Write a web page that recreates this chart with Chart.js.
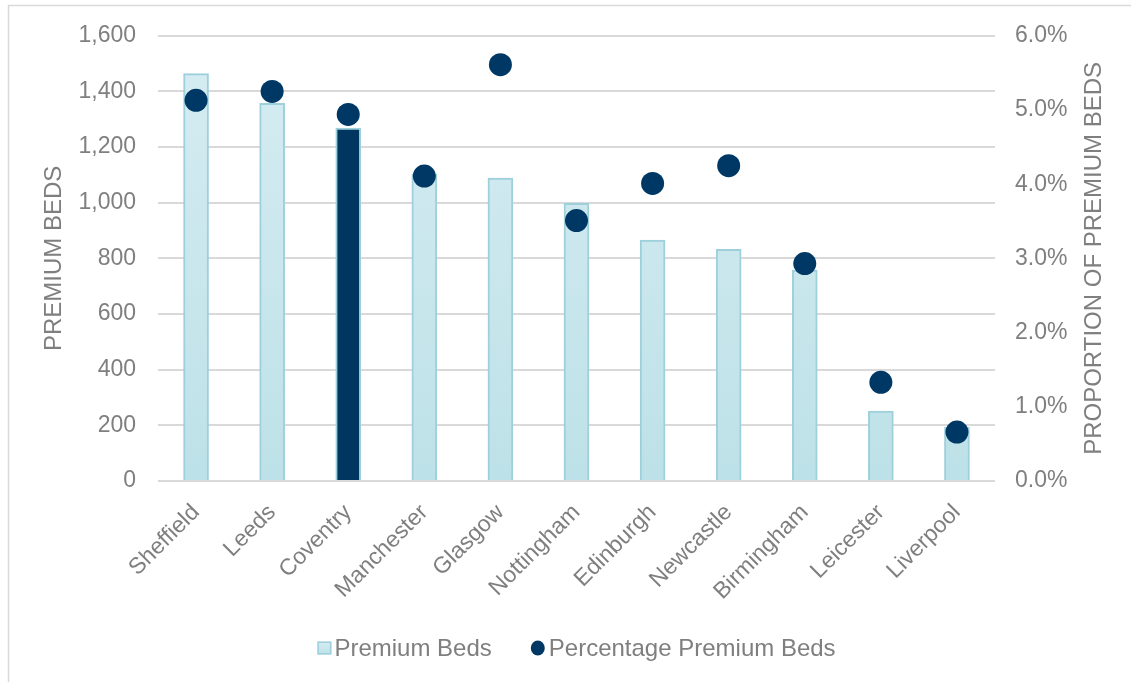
<!DOCTYPE html>
<html>
<head>
<meta charset="utf-8">
<script src="https://cdn.jsdelivr.net/npm/chart.js@4.4.0/dist/chart.umd.min.js"></script>
<style>
  html, body { margin: 0; padding: 0; background: #ffffff; }
  #wrap { width: 1131px; height: 682px; position: relative; }
</style>
</head>
<body>
<div id="wrap"><canvas id="c" width="1131" height="682"></canvas></div>
<script>
// Cities, ordered by number of premium beds
const cities = ['Sheffield', 'Leeds', 'Coventry', 'Manchester', 'Glasgow', 'Nottingham',
                'Edinburgh', 'Newcastle', 'Birmingham', 'Leicester', 'Liverpool'];
// Premium beds per city (left axis)
const premiumBeds = [1464, 1357, 1268, 1102, 1089, 998, 866, 833, 758, 251, 193];
// Premium beds as a share of all beds, in percent (right axis)
const premiumShare = [5.13, 5.25, 4.94, 4.11, 5.61, 3.51, 4.01, 4.25, 2.93, 1.33, 0.66];
// City shown in the highlight colour
const highlightCity = 'Coventry';
// Axis ranges
const bedsAxis = { min: 0, max: 1600, step: 200 };
const shareAxis = { min: 0, max: 6, step: 1 };
const seriesNames = ['Premium Beds', 'Percentage Premium Beds'];
const axisTitles = ['PREMIUM BEDS', 'PROPORTION OF PREMIUM BEDS'];

const FONT = "'Liberation Sans', Arial, sans-serif";
const GREY = '#7f7f7f';
const NAVY = '#003865';
const BAR_EDGE = '#9dd0db';
const TICK_SIZE = 23;

Chart.defaults.font.family = FONT;
Chart.defaults.font.size = TICK_SIZE;
Chart.defaults.color = GREY;

function barFill(ctx) {
  if (cities[ctx.dataIndex] === highlightCity) return '#00365f';
  const area = ctx.chart.chartArea;
  if (!area) return '#cbe7ed';
  const g = ctx.chart.ctx.createLinearGradient(0, area.top, 0, area.bottom);
  g.addColorStop(0, '#d6edf2');
  g.addColorStop(1, '#bde1e8');
  return g;
}

// Outer chart frame
const framePlugin = {
  id: 'frame',
  beforeDraw(chart) {
    const c = chart.ctx;
    c.save();
    c.strokeStyle = '#d9d9d9';
    c.lineWidth = 1.5;
    c.beginPath();
    c.moveTo(8.5, chart.height + 2);
    c.lineTo(8.5, 5.5);
    c.lineTo(chart.width + 2, 5.5);
    c.stroke();
    c.restore();
  }
};

// Vertical axis titles, both reading bottom to top
const axisTitlePlugin = {
  id: 'axisTitlesUp',
  afterDraw(chart) {
    const c = chart.ctx;
    const area = chart.chartArea;
    const midY = (area.top + area.bottom) / 2;
    const spots = [54, 1094];
    c.save();
    c.fillStyle = GREY;
    c.font = '24px ' + FONT;
    c.textAlign = 'center';
    c.textBaseline = 'middle';
    axisTitles.forEach((t, i) => {
      c.save();
      c.translate(spots[i], midY);
      c.rotate(-Math.PI / 2);
      c.fillText(t, 0, 0);
      c.restore();
    });
    c.restore();
  }
};

// Legend row under the category labels
const legendPlugin = {
  id: 'legendRow',
  afterDraw(chart) {
    const c = chart.ctx;
    const area = chart.chartArea;
    const y = 648;
    c.save();
    c.font = '24px ' + FONT;
    c.textBaseline = 'middle';
    const w1 = c.measureText(seriesNames[0]).width;
    const w2 = c.measureText(seriesNames[1]).width;
    const box = 14, gapA = 3, gapB = 39, dot = 14, gapC = 4;
    const total = box + gapA + w1 + gapB + dot + gapC + w2;
    let x = (area.left + area.right) / 2 - total / 2;
    // bar swatch
    const g = c.createLinearGradient(0, y - 7, 0, y + 7);
    g.addColorStop(0, '#d6edf2');
    g.addColorStop(1, '#bde1e8');
    c.fillStyle = g;
    c.fillRect(x, y - 6.5, box, 13);
    c.strokeStyle = BAR_EDGE;
    c.lineWidth = 1.5;
    c.strokeRect(x + 0.75, y - 5.75, box - 1.5, 11.5);
    x += box + gapA;
    c.fillStyle = GREY;
    c.fillText(seriesNames[0], x, y + 1);
    x += w1 + gapB;
    c.fillStyle = NAVY;
    c.beginPath();
    c.ellipse(x + dot / 2, y, dot / 2, 7.5, 0, 0, Math.PI * 2);
    c.fill();
    x += dot + gapC;
    c.fillStyle = GREY;
    c.fillText(seriesNames[1], x, y + 1);
    c.restore();
  }
};

new Chart(document.getElementById('c'), {
  data: {
    labels: cities,
    datasets: [
      {
        type: 'line',
        label: seriesNames[1],
        data: premiumShare,
        yAxisID: 'y1',
        showLine: false,
        pointRadius: 11.5,
        pointHoverRadius: 11.5,
        pointBackgroundColor: NAVY,
        pointBorderWidth: 0,
        order: 0
      },
      {
        type: 'bar',
        label: seriesNames[0],
        data: premiumBeds,
        yAxisID: 'y',
        backgroundColor: barFill,
        borderColor: BAR_EDGE,
        borderWidth: 2,
        barThickness: 25,
        order: 1
      }
    ]
  },
  options: {
    responsive: false,
    animation: false,
    layout: { padding: { top: 34, left: 0, right: 0, bottom: 0 } },
    plugins: {
      legend: { display: false },
      tooltip: { enabled: false },
      title: { display: false }
    },
    scales: {
      x: {
        grid: { display: false },
        border: { display: false },
        ticks: {
          autoSkip: false,
          maxRotation: 45,
          minRotation: 45,
          padding: 10,
          color: GREY,
          font: { size: TICK_SIZE }
        },
        afterFit(s) { s.height = 201; }
      },
      y: {
        position: 'left',
        min: bedsAxis.min,
        max: bedsAxis.max,
        grid: { color: '#d9d9d9', lineWidth: 2, drawTicks: false },
        border: { display: false },
        ticks: {
          stepSize: bedsAxis.step,
          padding: 22,
          color: GREY,
          font: { size: TICK_SIZE },
          callback: v => v.toLocaleString('en-GB')
        },
        afterFit(s) { s.width = 158; }
      },
      y1: {
        position: 'right',
        min: shareAxis.min,
        max: shareAxis.max,
        grid: { display: false, drawTicks: false },
        border: { display: false },
        ticks: {
          stepSize: shareAxis.step,
          padding: 20,
          color: GREY,
          font: { size: TICK_SIZE },
          callback: v => v.toFixed(1) + '%'
        },
        afterFit(s) { s.width = 136; }
      }
    }
  },
  plugins: [framePlugin, axisTitlePlugin, legendPlugin]
});
</script>
</body>
</html>
